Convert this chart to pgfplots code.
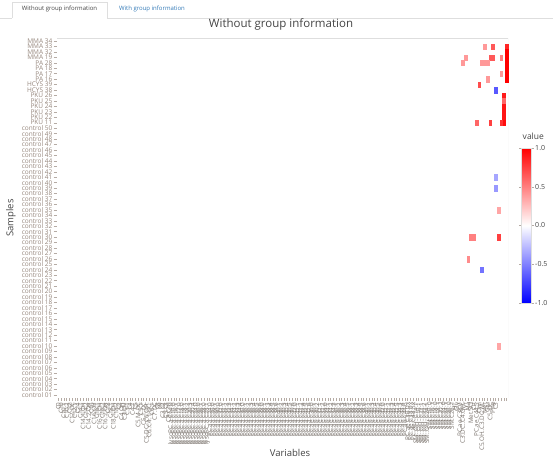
\documentclass[border=0pt]{standalone}
\usepackage{pgfplots}
\pgfplotsset{compat=1.18}
\usepackage{pgfplotstable}
\usepackage{fontspec}
\setmainfont{Open Sans}
\definecolor{lab}{RGB}{150,135,125}
\definecolor{labx}{RGB}{125,118,112}
\definecolor{txt}{RGB}{68,68,68}
\definecolor{frame}{RGB}{222,222,222}
\definecolor{tabblue}{RGB}{51,122,183}
\pgfplotstableread{
c r v
163 1 0.85
163 2 1.0
163 3 1.0
163 4 1.0
163 5 1.0
163 6 1.0
163 7 1.0
162 10 0.9
162 11 0.6
162 12 0.92
162 13 0.92
162 14 0.92
162 15 0.95
155 1 0.4
158 1 0.65
148 3 0.4
157 3 0.65
158 3 0.65
161 3 0.5
147 4 0.4
154 4 0.4
155 4 0.4
156 4 0.4
161 6 0.4
156 7 0.4
153 8 0.7
159 9 -0.65
152 15 0.6
157 15 0.75
161 15 0.8
159 25 -0.35
159 27 -0.4
160 31 0.35
150 36 0.5
151 36 0.5
160 36 0.75
149 40 0.45
154 42 -0.55
160 56 0.35
}\cells
\begin{document}
\begin{tikzpicture}[x=1pt,y=1pt]
\path[use as bounding box] (0,0) rectangle (553,463);
% tabs
\draw[frame] (11.7,445) -- (11.7,460.3) -- (107,460.3) -- (107,444.7) -- (553,444.7);
\draw[frame] (0,444.7) -- (11.7,444.7);
\node[font=\fontsize{6}{7}\selectfont, text=txt] at (59.5,453.7) {Without group information};
\node[font=\fontsize{6}{7}\selectfont, text=tabblue] at (152,453.7) {With group information};
% titles
\node[font=\fontsize{11.5}{13}\selectfont, text=txt] at (281,439) {Without group information};
\node[font=\fontsize{9.5}{11}\selectfont, text=txt, rotate=90] at (11,245) {Samples};
\node[font=\fontsize{9.5}{11}\selectfont, text=txt] at (290,10) {Variables};
\begin{axis}[
  at={(57pt,65.3pt)}, anchor=south west,
  scale only axis, width=451pt, height=359.4pt,
  xmin=-0.5, xmax=163.5, ymin=-0.5, ymax=65.5,
  y dir=reverse,
  axis line style={draw=none},
  tick align=outside, xtick pos=bottom, ytick pos=left,
  major tick length=3.5pt,
  tick style={color=lab!70, line width=0.4pt},
  xtick={0,...,163}, ytick={0,...,65},
  xticklabel style={rotate=90, anchor=east, inner sep=1pt, font=\fontsize{6.3}{6.3}\selectfont, text=labx},
  yticklabel style={inner sep=1pt, font=\fontsize{6.5}{6.5}\selectfont, text=lab},
  yticklabels={MMA 34,MMA 33,MMA 32,MMA 19,PA 28,PA 18,PA 17,PA 16,HCYS 39,HCYS 38,PKU 26,PKU 25,PKU 24,PKU 23,PKU 22,PKU 11,
    control 50,control 49,control 48,control 47,control 46,control 45,control 44,control 43,control 42,control 41,
    control 40,control 39,control 38,control 37,control 36,control 35,control 34,control 33,control 32,control 31,
    control 30,control 29,control 28,control 27,control 26,control 25,control 24,control 23,control 22,control 21,
    control 20,control 19,control 18,control 17,control 16,control 15,control 14,control 13,control 12,control 11,
    control 10,control 09,control 08,control 07,control 06,control 05,control 04,control 03,control 02,control 01},
  xticklabels={C0,C10,C10.1,C10.2,C12,C12.DC,C12.1,C14,C14.1,C14.1.OH,C14.2,C14.2.OH,C16,C16.OH,C16.1,C16.1.OH,C16.2,C16.2.OH,C18,C18.1,C18.1.OH,C18.2,C2,C4.OH,C3.OH,C3.1,C4,C4.1,C5,C5.M.DC,C5.1,C5.1.DC,C5.DC..C6.OH.,C6..C4.1.DC.,C6.1,C7.DC,C8,C9,C3.C2,C5.C3,C8.C10,
    lysoPC.a.C14.0,lysoPC.a.C16.0,lysoPC.a.C16.1,lysoPC.a.C17.0,lysoPC.a.C18.0,lysoPC.a.C18.1,lysoPC.a.C18.2,lysoPC.a.C20.3,lysoPC.a.C20.4,lysoPC.a.C24.0,lysoPC.a.C26.0,lysoPC.a.C26.1,lysoPC.a.C28.0,lysoPC.a.C28.1,
    PC.aa.C24.0,PC.aa.C26.0,PC.aa.C28.1,PC.aa.C30.0,PC.aa.C32.0,PC.aa.C32.1,PC.aa.C32.2,PC.aa.C32.3,PC.aa.C34.1,PC.aa.C34.2,PC.aa.C34.3,PC.aa.C34.4,PC.aa.C36.0,PC.aa.C36.1,PC.aa.C36.2,PC.aa.C36.3,PC.aa.C36.4,PC.aa.C36.5,PC.aa.C36.6,PC.aa.C38.0,PC.aa.C38.1,PC.aa.C38.3,PC.aa.C38.4,PC.aa.C38.5,PC.aa.C38.6,PC.aa.C40.1,PC.aa.C40.2,PC.aa.C40.3,PC.aa.C40.4,PC.aa.C40.5,PC.aa.C40.6,PC.aa.C42.0,PC.aa.C42.1,PC.aa.C42.2,PC.aa.C42.4,PC.aa.C42.5,PC.aa.C42.6,
    PC.ae.C30.0,PC.ae.C30.1,PC.ae.C30.2,PC.ae.C32.1,PC.ae.C32.2,PC.ae.C34.0,PC.ae.C34.1,PC.ae.C34.2,PC.ae.C34.3,PC.ae.C36.1,PC.ae.C36.2,PC.ae.C36.3,PC.ae.C36.4,PC.ae.C36.5,PC.ae.C38.1,PC.ae.C38.2,PC.ae.C38.3,PC.ae.C38.4,PC.ae.C38.5,PC.ae.C38.6,PC.ae.C40.1,PC.ae.C40.2,PC.ae.C40.3,PC.ae.C40.4,PC.ae.C40.5,PC.ae.C40.6,PC.ae.C42.0,PC.ae.C42.1,PC.ae.C42.2,PC.ae.C42.3,PC.ae.C42.4,PC.ae.C42.5,PC.ae.C44.3,PC.ae.C44.4,PC.ae.C44.6,PC.ae.C36.0x,PC.ae.C38.0x,PC.ae.C44.5x,
    SM..OH..C14.1,SM..OH..C16.1,SM..OH..C22.1,SM..OH..C22.2,SM..OH..C24.1,SM.C16.0,SM.C16.1,SM.C18.0,SM.C18.1,SM.C20.2,SM.C24.0,SM.C24.1,SM.C26.0,SM.C26.1,H1,
    Gly,PC.ae.C38.0,C3.DC..C4.OH.,Tyr,Ala,Met.SO,Cit,PC.ae.C44.5,Orn,C5.OH..C3.DC.M.,Met,Glu,C5.DC,Phe,C3},
  colormap={bwr}{rgb255=(0,0,255) rgb255=(255,255,255) rgb255=(255,0,0)},
  point meta min=-1, point meta max=1,
  colorbar,
  colorbar style={
    at={(parent axis.north east)}, anchor=north west, xshift=5pt, yshift=-109.7pt,
    width=9.5pt, height=155pt, y dir=normal,
    ytick={-1,-0.5,0,0.5,1},
    axis line style={draw=frame},
    tick align=outside, major tick length=2.5pt,
    tick style={color=lab!70},
    yticklabel style={font=\fontsize{7}{8}\selectfont, text=txt, inner sep=1.5pt,
      /pgf/number format/.cd, fixed, fixed zerofill, precision=1, assume math mode=true},
    title={value},
    title style={font=\fontsize{8.5}{9}\selectfont, text=txt, at={(0,1)}, anchor=south west, xshift=-1pt, inner sep=2pt},
  },
]
\addplot[scatter, only marks, mark=square*, mark size=1.375pt,
  mark options={yscale=1.98, line width=0.1pt},
  scatter src=explicit,
  scatter/use mapped color={draw=mapped color, fill=mapped color}]
  table[x=c, y=r, meta=v] {\cells};
\draw[frame, line width=0.6pt] (axis description cs:0,1) -- (axis description cs:1,1) -- (axis description cs:1,0);
\end{axis}
\end{tikzpicture}
\end{document}
